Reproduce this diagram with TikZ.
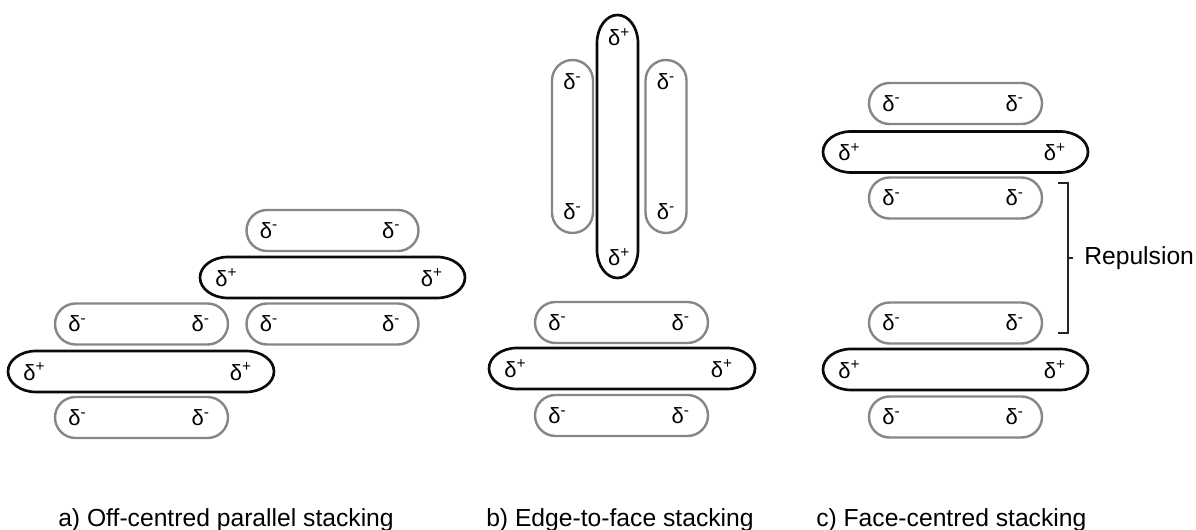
\documentclass[tikz,border=0pt]{standalone}
\usepackage{fontspec}
\setmainfont{Liberation Sans}
\usetikzlibrary{calc}

\definecolor{pillgray}{RGB}{134,134,134}
\definecolor{pillblack}{RGB}{10,10,10}

% horizontal molecule: name, x, y, length, end radius, line style
\newcommand\hpill[6]{%
  \node[pillbox, minimum width=#4*0.75pt, minimum height=41*0.75pt] (#1) at (#2,#3) {};
  \draw[#6] (#1.west)
    arc[start angle=180, end angle=90, x radius=#5*0.75pt, y radius=20.5*0.75pt]
    -- ++({(#4-2*#5)*0.75pt},0pt)
    arc[start angle=90, end angle=-90, x radius=#5*0.75pt, y radius=20.5*0.75pt]
    -- ++({-(#4-2*#5)*0.75pt},0pt)
    arc[start angle=270, end angle=180, x radius=#5*0.75pt, y radius=20.5*0.75pt]
    -- cycle;
}
% vertical molecule: name, x, y, length, end radius, line style
\newcommand\vpill[6]{%
  \node[pillbox, minimum width=41*0.75pt, minimum height=#4*0.75pt] (#1) at (#2,#3) {};
  \draw[#6] (#1.north)
    arc[start angle=90, end angle=0, x radius=20.5*0.75pt, y radius=#5*0.75pt]
    -- ++(0pt,{-(#4-2*#5)*0.75pt})
    arc[start angle=0, end angle=-180, x radius=20.5*0.75pt, y radius=#5*0.75pt]
    -- ++(0pt,{(#4-2*#5)*0.75pt})
    arc[start angle=180, end angle=90, x radius=20.5*0.75pt, y radius=#5*0.75pt]
    -- cycle;
}
\newcommand\dneg{δ\textsuperscript{-}}
\newcommand\dpos{δ\textsuperscript{+}}
% partial charges at both ends of a horizontal molecule
\newcommand\neglabels[1]{%
  \node[dlab, anchor=west] (#1-l) at ($(#1.west)+(13,0)$) {\dneg};
  \node[dlab, anchor=east] (#1-r) at ($(#1.east)+(-18,0)$) {\dneg};
}
\newcommand\poslabels[1]{%
  \node[dlab, anchor=west] (#1-l) at ($(#1.west)+(15,0)$) {\dpos};
  \node[dlab, anchor=east] (#1-r) at ($(#1.east)+(-22,0)$) {\dpos};
}

\begin{document}
\begin{tikzpicture}[x=0.75pt, y=-0.75pt,
  pillbox/.style={rectangle, draw=none, inner sep=0pt, outer sep=0pt},
  negline/.style={draw=pillgray, line width=1.8pt},
  posline/.style={draw=pillblack, line width=2pt},
  dlab/.style={inner sep=0pt, font=\fontsize{16.5}{18}\selectfont},
  caption/.style={inner sep=0pt, anchor=base west, font=\fontsize{18.5}{22}\selectfont},
  bracket/.style={draw=black!85, line width=1.2pt}]
\useasboundingbox (0,0) rectangle (1196,530);

% a) off-centred parallel stacking
\hpill{a1}{332.5}{230.5}{172}{20.5}{negline}
\hpill{a2}{332.5}{277.5}{265}{28}{posline}
\hpill{a3}{332.5}{324}{172}{20.5}{negline}
\hpill{a4}{141.5}{324}{173}{20.5}{negline}
\hpill{a5}{141}{371.5}{266}{28}{posline}
\hpill{a6}{141.5}{417.5}{173}{20.5}{negline}
\neglabels{a1}
\poslabels{a2}
\neglabels{a3}
\neglabels{a4}
\poslabels{a5}
\neglabels{a6}

% b) edge-to-face stacking
\vpill{b1}{617.5}{146.5}{263}{28}{posline}
\vpill{b2}{572.5}{146.5}{173}{20.5}{negline}
\vpill{b3}{666}{146.5}{173}{20.5}{negline}
\node[dlab] (b1-t) at ($(b1.north)+(1.5,22)$) {\dpos};
\node[dlab] (b1-b) at ($(b1.south)+(1.5,-21)$) {\dpos};
\node[dlab] (b2-t) at ($(b2.north)+(0,22)$) {\dneg};
\node[dlab] (b2-b) at ($(b2.south)+(0,-21)$) {\dneg};
\node[dlab] (b3-t) at ($(b3.north)+(0,22)$) {\dneg};
\node[dlab] (b3-b) at ($(b3.south)+(0,-21)$) {\dneg};
\hpill{b4}{621.5}{322.5}{173}{20.5}{negline}
\hpill{b5}{622}{368.5}{266}{28}{posline}
\hpill{b6}{621.5}{415.5}{173}{20.5}{negline}
\neglabels{b4}
\poslabels{b5}
\neglabels{b6}

% c) face-centred stacking
\hpill{c1}{955.5}{103.5}{173}{20.5}{negline}
\hpill{c2}{955.5}{152}{265}{28}{posline}
\hpill{c3}{955.5}{198}{173}{20.5}{negline}
\hpill{c4}{955.5}{323}{173}{20.5}{negline}
\hpill{c5}{955.5}{369.5}{265}{28}{posline}
\hpill{c6}{955.5}{417}{173}{20.5}{negline}
\neglabels{c1}
\poslabels{c2}
\neglabels{c3}
\neglabels{c4}
\poslabels{c5}
\neglabels{c6}

% repulsion bracket
\coordinate (brt) at (1058,183);
\coordinate (brb) at (1058,333);
\coordinate (brm) at (1068,258);
\node[inner sep=0pt, anchor=west, font=\fontsize{18.5}{22}\selectfont] (rep) at (1084,258) {Repulsion};
\draw[bracket] (brt) -- ++(10,0) -- ++(0,150) -- (brb);
\draw[bracket] (brm) -- ++(5,0);

% captions
\node[caption] (capa) at (58,527) {a) Off-centred parallel stacking};
\node[caption] (capb) at (486,527) {b) Edge-to-face stacking};
\node[caption] (capc) at (816,527) {c) Face-centred stacking};
\end{tikzpicture}
\end{document}
